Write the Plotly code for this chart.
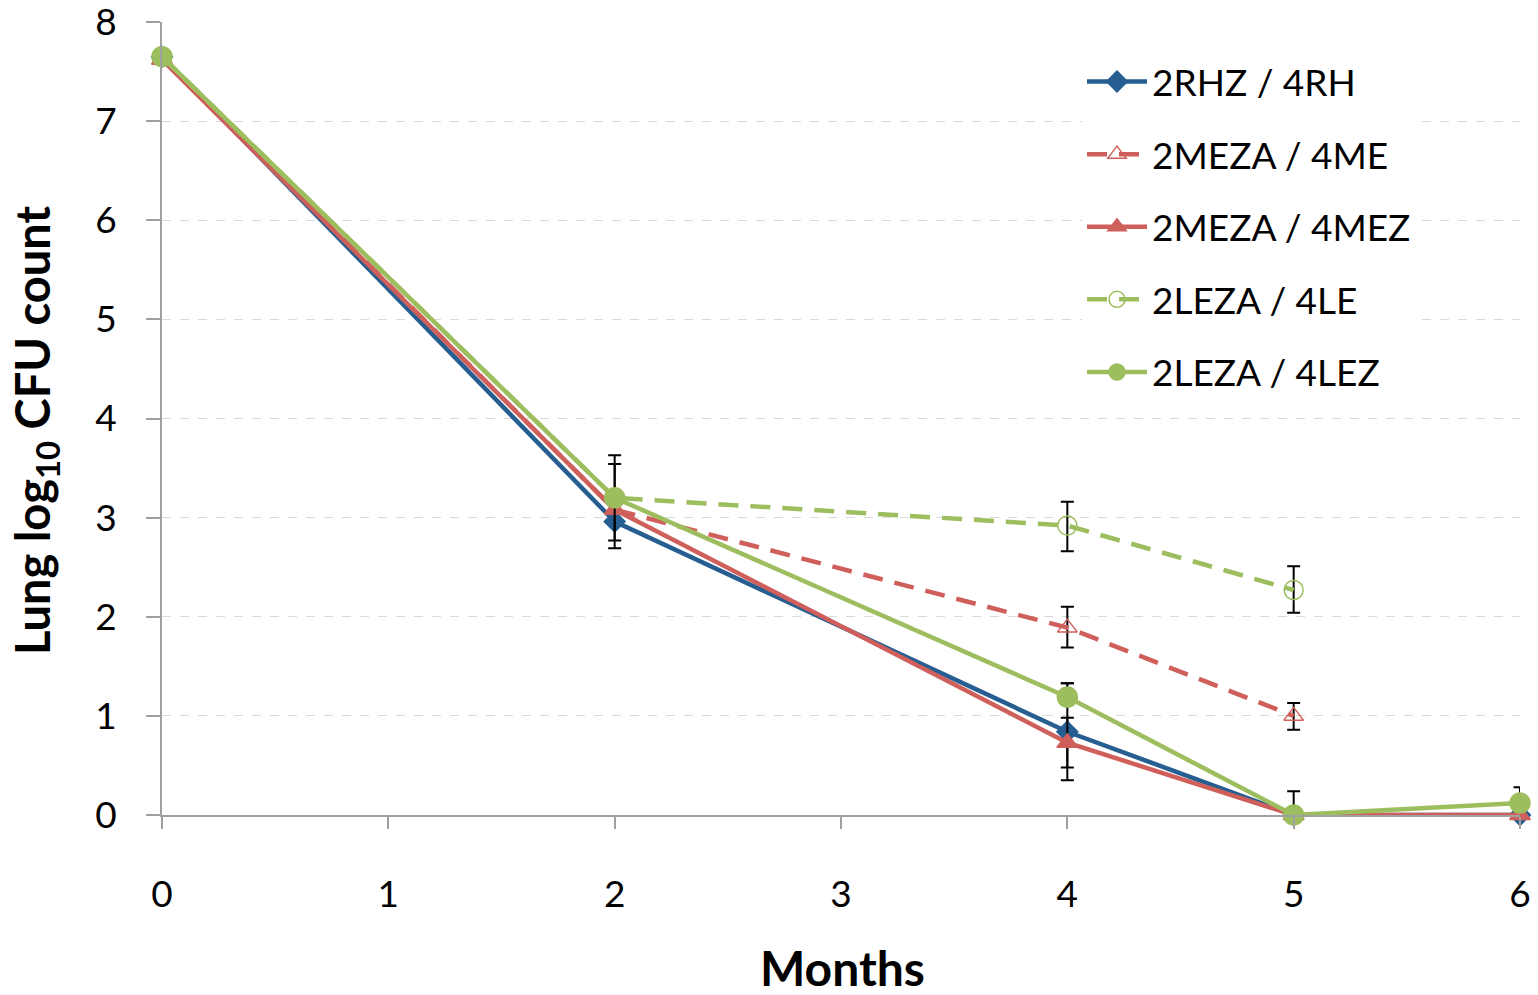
import plotly.graph_objects as go

months = [0, 2, 4, 5, 6]
rhz_rh = [7.65, 2.96, 0.84, 0.0, 0.0]
meza_me = [7.63, 3.08, 1.89, 1.00, None]
meza_mez = [7.62, 3.08, 0.73, 0.0, 0.0]
leza_le = [7.65, 3.20, 2.92, 2.27, None]
leza_lez = [7.65, 3.20, 1.19, 0.0, 0.12]

rhz_err_p = [0, 0.0, 0.49, 0.0, 0]
rhz_err_m = [0, 0.0, 0.49, 0.0, 0]
me_err_p = [0, 0.0, 0.21, 0.13, 0]
me_err_m = [0, 0.0, 0.20, 0.14, 0]
mez_err_p = [0, 0.46, 0.25, 0.0, 0]
mez_err_m = [0, 0.39, 0.25, 0.0, 0]
le_err_p = [0, 0.0, 0.24, 0.24, 0]
le_err_m = [0, 0.0, 0.26, 0.23, 0]
lez_err_p = [0, 0.43, 0.14, 0.24, 0.16]
lez_err_m = [0, 0.43, 0.0, 0.0, 0.0]

names = ["2RHZ / 4RH", "2MEZA / 4ME", "2MEZA / 4MEZ", "2LEZA / 4LE", "2LEZA / 4LEZ"]

BLUE = "#265E91"
RED = "#CF5F5A"
GREEN = "#9DBE5E"

FONT = "Lato, 'Open Sans', sans-serif"

def err(p, m):
    return dict(type="data", array=p, arrayminus=m, color="black", thickness=2, width=6.5, visible=True)

series = [
    (rhz_rh, rhz_err_p, rhz_err_m, BLUE, "solid", "diamond", 16),
    (meza_me, me_err_p, me_err_m, RED, "20px,12px", "triangle-up-open", 17),
    (meza_mez, mez_err_p, mez_err_m, RED, "solid", "triangle-up", 18),
    (leza_le, le_err_p, le_err_m, GREEN, "20px,12px", "circle-open", 19),
    (leza_lez, lez_err_p, lez_err_m, GREEN, "solid", "circle", 20),
]

fig = go.Figure()
for i, (ys, ep, em, col, dash, sym, sz) in enumerate(series):
    fig.add_trace(go.Scatter(
        x=months, y=ys, name=names[i], mode="lines+markers",
        line=dict(color=col, width=4.5, dash=dash),
        marker=dict(symbol=sym, size=sz, color=col, line=dict(color=col, width=1.5)),
        error_y=err(ep, em), cliponaxis=False, connectgaps=False,
        legendgroup=f"g{i}",
    ))

pw = 1538 - 162 - 18
ph = 995 - 22 - 180

fig.update_layout(
    width=1538, height=995,
    margin=dict(l=162, r=18, t=22, b=180),
    paper_bgcolor="white", plot_bgcolor="white",
    font=dict(family=FONT, size=34, color="black"),
    showlegend=True,
    legend=dict(x=(1082 - 162) / pw, y=(815 - 51) / ph, xanchor="left", yanchor="top",
                bgcolor="white", font=dict(size=37, family=FONT),
                traceorder="grouped", tracegroupgap=21.5, itemwidth=60),
    xaxis=dict(range=[0, 6], tickvals=[0, 1, 2, 3, 4, 5, 6], showgrid=False,
               showline=True, linecolor="#A0A0A0", linewidth=2,
               ticks="outside", ticklen=12, tickwidth=2, tickcolor="#A0A0A0",
               ticklabelstandoff=34, tickfont=dict(size=37), zeroline=False,
               ticklabeloverflow="allow", automargin=False),
    yaxis=dict(range=[0, 8], tickvals=list(range(9)), showgrid=True,
               gridcolor="#D9D9D9", griddash="dash", gridwidth=1,
               showline=True, linecolor="#A0A0A0", linewidth=2,
               ticks="outside", ticklen=14, tickwidth=2, tickcolor="#A0A0A0",
               ticklabelstandoff=22, tickfont=dict(size=37), zeroline=False,
               ticklabeloverflow="allow", automargin=False),
    annotations=[
        dict(text="<b>Months</b>", x=(842 - 162) / pw, xref="paper", y=(815 - 968) / ph, yref="paper",
             showarrow=False, font=dict(size=48, family=FONT), yanchor="middle", xanchor="center"),
        dict(text="<b>Lung log<sub>10</sub> CFU count</b>", x=(35 - 162) / pw, y=(815 - 430) / ph,
             xref="paper", yref="paper", showarrow=False, textangle=-90,
             font=dict(size=47, family=FONT), xanchor="center", yanchor="middle"),
    ],
)

fig.write_html("out.html")
